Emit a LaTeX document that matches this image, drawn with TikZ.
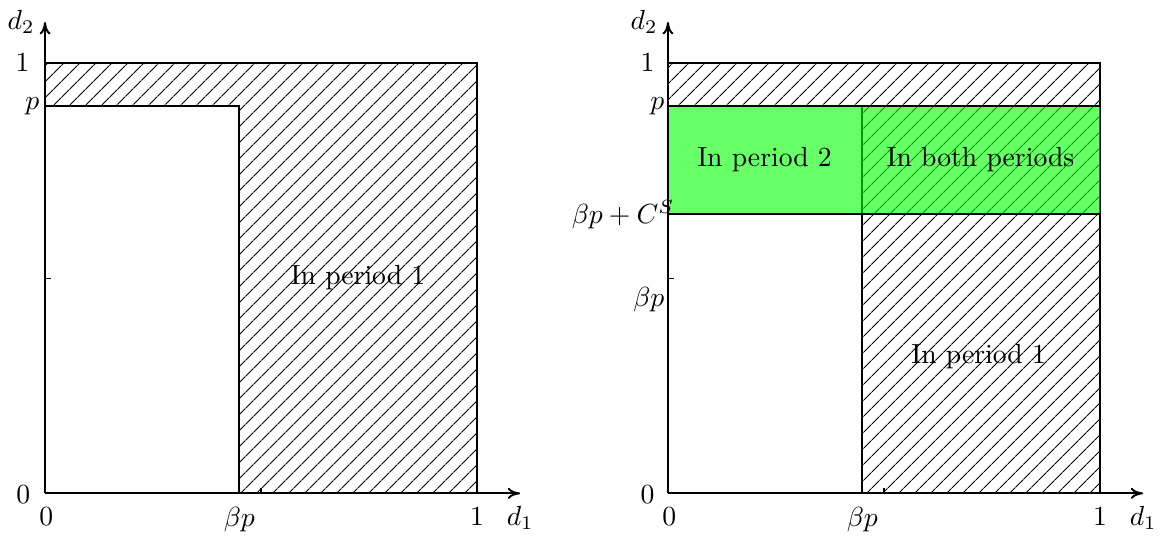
\documentclass[tikz,border=0pt]{standalone}
\usetikzlibrary{arrows.meta,patterns.meta}

\begin{document}
\begin{tikzpicture}[x=5.49cm, y=5.47cm,
    ax/.style={-{To[length=4.5pt, width=4pt]}, line width=0.7pt},
    edge/.style={line width=0.7pt},
    hatch/.style={pattern={Lines[angle=45, distance=4pt, line width=0.4pt]}},
    tk/.style={inner sep=0pt},
    reg/.style={align=center},
    both/.style={fill=green, fill opacity=0.6}]
  \useasboundingbox (-0.1042,-0.0974) rectangle (2.588,1.1462);

  % left: only period 1
  \begin{scope}
    \fill[hatch] (0,0.9) -- (0,1) -- (1,1) -- (1,0) -- (0.45,0) -- (0.45,0.9) -- cycle;
    \draw[edge] (0,0.9) -- (0.45,0.9) -- (0.45,0);
    \draw[edge] (0,1) -- (1,1) -- (1,0);
    \draw[ax] (0,0) coordinate (LO) -- (1.1,0) coordinate (Lx);
    \draw[ax] (LO) -- (0,1.095) coordinate (Ly);
    \draw (0.5,0) -- ++(0,2pt);
    \draw (0,0.5) -- ++(2pt,0);

    \node[tk, anchor=east] (Ld2) at (-0.023,1.095) {$d_2$};
    \node[tk, anchor=east] (Lone) at (-0.035,1) {$1$};
    \node[tk, anchor=east] (Lp) at (-0.012,0.9) {$p$};
    \node[tk, anchor=east] (Lzero) at (-0.033,-0.004) {$0$};
    \node[tk] (Lxzero) at (0.003,-0.0545) {$0$};
    \node[tk, anchor=north] (Lbp) at (0.45,-0.03) {$\beta p$};
    \node[tk] (Lxone) at (1,-0.0545) {$1$};
    \node[tk] (Ld1) at (1.10,-0.058) {$d_1$};
    \node[reg] (Lper1) at (0.7245,0.501) {In period 1};
  \end{scope}

  % right: storage lets both periods share
  \begin{scope}[shift={(1.4421,0)}]
    \fill[hatch] (0,0.9) -- (0,1) -- (1,1) -- (1,0) -- (0.45,0) -- (0.45,0.9) -- cycle;
    \draw[edge] (0.45,0) -- (0.45,0.9);
    \draw[edge] (0,1) -- (1,1) -- (1,0);
    \fill[both] (0,0.65) rectangle (1,0.9);
    \draw[edge] (0,0.9) -- (1,0.9);
    \draw[edge] (0,0.65) -- (1,0.65);
    \draw[ax] (0,0) coordinate (RO) -- (1.1,0) coordinate (Rx);
    \draw[ax] (RO) -- (0,1.095) coordinate (Ry);
    \draw (0.5,0) -- ++(0,2pt);
    \draw (0,0.5) -- ++(2pt,0);

    \node[tk, anchor=east] (Rd2) at (-0.023,1.095) {$d_2$};
    \node[tk, anchor=east] (Rone) at (-0.030,1) {$1$};
    \node[tk, anchor=east] (Rp) at (-0.007,0.9) {$p$};
    \node[tk, anchor=east] (Rbpc) at (0.016,0.647) {$\beta p + C^S$};
    \node[tk, anchor=east] (Rbpy) at (-0.007,0.45) {$\beta p$};
    \node[tk, anchor=east] (Rzero) at (-0.030,-0.004) {$0$};
    \node[tk] (Rxzero) at (0.003,-0.0545) {$0$};
    \node[tk, anchor=north] (Rbp) at (0.45,-0.03) {$\beta p$};
    \node[tk] (Rxone) at (1,-0.0545) {$1$};
    \node[tk] (Rd1) at (1.10,-0.058) {$d_1$};
    \node[reg] (Rper2) at (0.2235,0.775) {In period 2};
    \node[reg] (Rboth) at (0.7235,0.775) {In both periods};
    \node[reg] (Rper1) at (0.719,0.318) {In period 1};
  \end{scope}
\end{tikzpicture}
\end{document}
